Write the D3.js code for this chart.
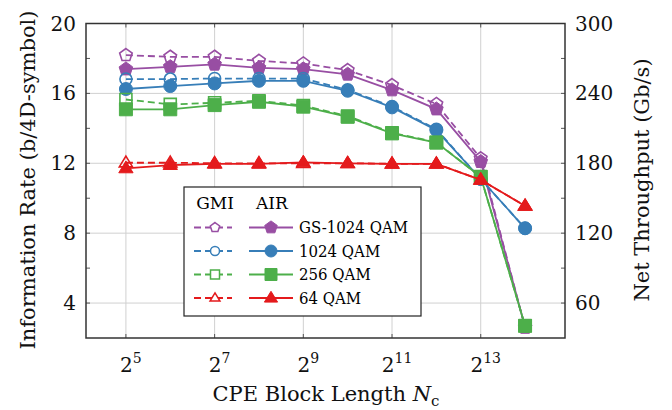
<!DOCTYPE html>
<html>
<head>
<meta charset="utf-8">
<script src="https://cdn.jsdelivr.net/npm/d3@7"></script>
<style>
  body { margin: 0; background: #fff; }
  text { font-family: "DejaVu Serif", "Times New Roman", "Liberation Serif", serif; }
</style>
</head>
<body>
<svg id="chart" width="672" height="410"></svg>
<script>
// block length exponents (N_c = 2^k)
const exponents = [5, 6, 7, 8, 9, 10, 11, 12, 13, 14];
const seriesNames = ["GS-1024 QAM", "1024 QAM", "256 QAM", "64 QAM"];
const seriesColors = ["#984ea3", "#377eb8", "#4daf4a", "#e41a1c"];
const seriesMarkers = ["pentagon", "circle", "square", "triangle"];

// GMI (dashed, open markers)
const gmiGS1024 = [18.19, 18.09, 18.09, 17.86, 17.71, 17.33, 16.47, 15.39, 12.28, 2.60];
const gmi1024   = [16.82, 16.82, 16.85, 16.85, 16.85, 16.20, 15.25, 13.95, 11.10, 8.28];
const gmi256    = [15.65, 15.37, 15.46, 15.58, 15.30, 14.70, 13.75, 13.20, 11.23, 2.70];
const gmi64     = [12.03, 12.03, 12.00, 12.00, 12.00, 12.00, 11.97, 11.97, 11.05, 9.56];

// AIR (solid, filled markers)
const airGS1024 = [17.39, 17.52, 17.66, 17.46, 17.39, 17.09, 16.19, 15.10, 12.09, 2.62];
const air1024   = [16.25, 16.42, 16.57, 16.72, 16.72, 16.15, 15.20, 13.90, 11.10, 8.28];
const air256    = [15.09, 15.09, 15.33, 15.52, 15.24, 14.66, 13.71, 13.18, 11.23, 2.70];
const air64     = [11.71, 11.90, 11.97, 11.97, 12.05, 12.00, 11.97, 11.97, 11.05, 9.56];

const gmiData = [gmiGS1024, gmi1024, gmi256, gmi64];
const airData = [airGS1024, air1024, air256, air64];

const xTickExps = [5, 7, 9, 11, 13];
const yTicks = [4, 8, 12, 16, 20];
const yMinorTicks = [4, 6, 8, 10, 12, 14, 16, 18, 20];
const rightTicks = [60, 120, 180, 240, 300];

const pLeft = 86, pRight = 565, pTop = 23.5, pBottom = 338;
const svg = d3.select("#chart");

const x = d3.scaleLog().base(2).domain([Math.pow(2, 4.1), Math.pow(2, 14.9)]).range([pLeft, pRight]);
const y = d3.scaleLinear().domain([2, 20]).range([pBottom, pTop]);
const yR = d3.scaleLinear().domain([30, 300]).range([pBottom, pTop]);

// grid
svg.append("g").selectAll("line").data(xTickExps).enter().append("line")
  .attr("x1", d => x(Math.pow(2, d))).attr("x2", d => x(Math.pow(2, d)))
  .attr("y1", pTop).attr("y2", pBottom)
  .attr("stroke", "#d0d0d0").attr("stroke-width", 1);
svg.append("g").selectAll("line").data(yTicks.filter(d => d < 20)).enter().append("line")
  .attr("x1", pLeft).attr("x2", pRight)
  .attr("y1", d => y(d)).attr("y2", d => y(d))
  .attr("stroke", "#d0d0d0").attr("stroke-width", 1);

// inward ticks
const tickG = svg.append("g").attr("stroke", "#555").attr("stroke-width", 1);
yMinorTicks.forEach(v => {
  tickG.append("line").attr("x1", pLeft).attr("x2", pLeft + 4).attr("y1", y(v)).attr("y2", y(v));
  tickG.append("line").attr("x1", pRight).attr("x2", pRight - 4).attr("y1", y(v)).attr("y2", y(v));
});
xTickExps.forEach(e => {
  tickG.append("line").attr("x1", x(Math.pow(2, e))).attr("x2", x(Math.pow(2, e))).attr("y1", pBottom).attr("y2", pBottom - 4);
  tickG.append("line").attr("x1", x(Math.pow(2, e))).attr("x2", x(Math.pow(2, e))).attr("y1", pTop).attr("y2", pTop + 4);
});

// marker shapes
function markerPath(type, s) {
  if (type === "circle") return d3.symbol(d3.symbolCircle, s * s * Math.PI / 4)();
  if (type === "square") return d3.symbol(d3.symbolSquare, s * s)();
  if (type === "triangle") {
    const h = s * 0.9;
    return `M0,${-h * 0.62}L${s * 0.55},${h * 0.38}L${-s * 0.55},${h * 0.38}Z`;
  }
  // pentagon, point up
  const r = s * 0.55;
  const pts = d3.range(5).map(i => {
    const a = -Math.PI / 2 + i * 2 * Math.PI / 5;
    return [r * Math.cos(a), r * Math.sin(a)];
  });
  return "M" + pts.map(p => p.join(",")).join("L") + "Z";
}

const line = d3.line().x((d, i) => x(Math.pow(2, exponents[i]))).y(d => y(d));

const plot = svg.append("g");
seriesNames.forEach((name, k) => {
  const c = seriesColors[k];
  // GMI dashed
  plot.append("path").datum(gmiData[k]).attr("d", line)
    .attr("fill", "none").attr("stroke", c).attr("stroke-width", 1.8)
    .attr("stroke-dasharray", "7,4");
  plot.append("g").selectAll("path").data(gmiData[k]).enter().append("path")
    .attr("d", markerPath(seriesMarkers[k], 12))
    .attr("transform", (d, i) => `translate(${x(Math.pow(2, exponents[i]))},${y(d)})`)
    .attr("fill", "white").attr("fill-opacity", 0).attr("stroke", c).attr("stroke-width", 1.6);
  // AIR solid
  plot.append("path").datum(airData[k]).attr("d", line)
    .attr("fill", "none").attr("stroke", c).attr("stroke-width", 1.8);
  plot.append("g").selectAll("path").data(airData[k]).enter().append("path")
    .attr("d", markerPath(seriesMarkers[k], 13))
    .attr("transform", (d, i) => `translate(${x(Math.pow(2, exponents[i]))},${y(d)})`)
    .attr("fill", c).attr("stroke", c).attr("stroke-width", 1);
});

// frame
svg.append("rect").attr("x", pLeft).attr("y", pTop).attr("width", pRight - pLeft).attr("height", pBottom - pTop)
  .attr("fill", "none").attr("stroke", "#333").attr("stroke-width", 1.5);

// tick labels
svg.append("g").selectAll("text").data(yTicks).enter().append("text")
  .attr("x", pLeft - 10).attr("y", d => y(d)).attr("dy", "0.35em")
  .attr("text-anchor", "end").attr("font-size", 20).attr("fill", "#111").text(d => d);
svg.append("g").selectAll("text").data(rightTicks).enter().append("text")
  .attr("x", pRight + 10).attr("y", d => yR(d)).attr("dy", "0.35em")
  .attr("text-anchor", "start").attr("font-size", 20).attr("fill", "#111").text(d => d);
const xl = svg.append("g").selectAll("text").data(xTickExps).enter().append("text")
  .attr("x", d => x(Math.pow(2, d)) + 5).attr("y", 372)
  .attr("text-anchor", "middle").attr("font-size", 20).attr("fill", "#111");
xl.append("tspan").text("2");
xl.append("tspan").attr("dy", -9).attr("font-size", 14).text(d => d);

// axis titles
const xt = svg.append("text").attr("x", 326).attr("y", 401).attr("text-anchor", "middle")
  .attr("font-size", 21).attr("fill", "#111");
xt.append("tspan").text("CPE Block Length ");
xt.append("tspan").attr("font-style", "italic").text("N");
xt.append("tspan").attr("dy", 5).attr("font-size", 15).text("c");

svg.append("text").attr("transform", `translate(35,180) rotate(-90)`)
  .attr("text-anchor", "middle").attr("font-size", 21).attr("fill", "#111")
  .text("Information Rate (b/4D-symbol)");
svg.append("text").attr("transform", `translate(642,180) rotate(-90)`)
  .attr("text-anchor", "middle").attr("font-size", 21).attr("fill", "#111").attr("dy", "0.35em")
  .text("Net Throughput (Gb/s)");

// legend
const lg = svg.append("g");
lg.append("rect").attr("x", 184).attr("y", 187).attr("width", 237).attr("height", 129)
  .attr("fill", "white").attr("stroke", "#222").attr("stroke-width", 1.2);
lg.append("text").attr("x", 215).attr("y", 209).attr("text-anchor", "middle").attr("font-size", 17).text("GMI");
lg.append("text").attr("x", 272).attr("y", 209).attr("text-anchor", "middle").attr("font-size", 17).text("AIR");
seriesNames.forEach((name, k) => {
  const ry = 227.5 + k * 23.5;
  const c = seriesColors[k];
  lg.append("line").attr("x1", 193).attr("x2", 232).attr("y1", ry).attr("y2", ry)
    .attr("stroke", c).attr("stroke-width", 1.8).attr("stroke-dasharray", "7,4").attr("stroke-dashoffset", -1);
  lg.append("path").attr("d", markerPath(seriesMarkers[k], 9)).attr("transform", `translate(215,${ry})`)
    .attr("fill", "white").attr("stroke", c).attr("stroke-width", 1.5);
  lg.append("line").attr("x1", 249).attr("x2", 293).attr("y1", ry).attr("y2", ry)
    .attr("stroke", c).attr("stroke-width", 1.8);
  lg.append("path").attr("d", markerPath(seriesMarkers[k], 12)).attr("transform", `translate(271,${ry})`)
    .attr("fill", c).attr("stroke", c);
  const t = lg.append("text").attr("x", 299).attr("y", ry).attr("dy", "0.35em").attr("font-size", 17).text(name);
  // squeeze slightly so the longest label fits the box like the original
  t.attr("textLength", t.node().getComputedTextLength() * 0.88).attr("lengthAdjust", "spacingAndGlyphs");
});
</script>
</body>
</html>
